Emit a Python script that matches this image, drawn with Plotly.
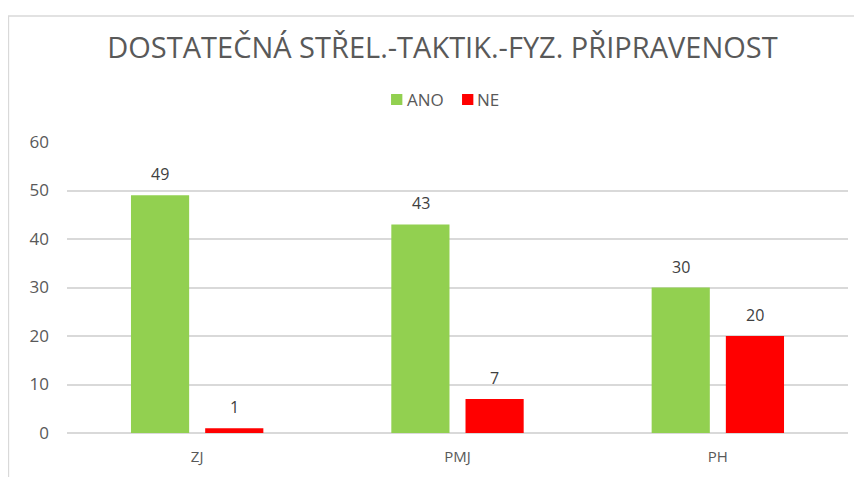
import plotly.graph_objects as go

# chart data
categories = ['ZJ', 'PMJ', 'PH']
ano_values = [49, 43, 30]
ne_values = [1, 7, 20]
y_ticks = [0, 10, 20, 30, 40, 50, 60]

GREEN = '#92D050'
RED = '#FF0000'
TEXT = '#595959'

fig = go.Figure()

fig.add_trace(go.Bar(x=categories, y=ano_values, name='ANO', showlegend=False,
                     marker=dict(color=GREEN, line=dict(width=0))))
fig.add_trace(go.Bar(x=categories, y=ne_values, name='NE', showlegend=False,
                     marker=dict(color=RED, line=dict(width=0))))

# value labels above each bar
for shift, values in [(-37, ano_values), (37, ne_values)]:
    for cat, val in zip(categories, values):
        fig.add_annotation(x=cat, y=val, text=str(val), showarrow=False,
                           xshift=shift, yshift=21,
                           font=dict(size=16, color='#404040'))

# compact legend drawn by hand: square swatch + label (paper coords)
legend_items = [('ANO', GREEN, 0.4149, 0.4353), ('NE', RED, 0.5058, 0.5250)]
for name, color, sx, tx in legend_items:
    fig.add_shape(type='rect', xref='paper', yref='paper',
                  x0=sx, x1=sx + 0.0145, y0=1.1271, y1=1.1649,
                  fillcolor=color, line=dict(width=0))
    fig.add_annotation(xref='paper', yref='paper', x=tx, y=1.146,
                       xanchor='left', yanchor='middle', text=name,
                       showarrow=False, xshift=-2,
                       font=dict(size=17, color=TEXT))

# outer chart border (like the Excel chart frame)
fig.add_shape(type='rect', xref='paper', yref='paper',
              x0=-0.075, x1=1.03, y0=-0.2, y1=1.433,
              line=dict(color='#d9d9d9', width=1.5), layer='below')

# page body has an 8px margin, so the margins are offset to compensate
fig.update_layout(
    width=862, height=477,
    margin=dict(l=59, r=22, t=134, b=52),
    paper_bgcolor='white', plot_bgcolor='white',
    font=dict(family='Open Sans', color=TEXT),
    title=dict(text='DOSTATEČNÁ STŘEL.-TAKTIK.-FYZ. PŘIPRAVENOST',
               x=0.504, xanchor='center', y=0.916, yanchor='middle',
               font=dict(size=29, color=TEXT)),
    showlegend=False,
    barmode='group', bargap=0.43, bargroupgap=0.216,
)

fig.update_xaxes(showgrid=False, showline=False, ticks='',
                 tickfont=dict(size=15, color=TEXT), ticklabelstandoff=13)
fig.update_yaxes(range=[0, 60], tickvals=y_ticks, showline=False,
                 gridcolor='#d9d9d9', gridwidth=1.5, zeroline=True,
                 zerolinecolor='#d9d9d9', zerolinewidth=1.5,
                 tickfont=dict(size=17, color=TEXT), ticks='',
                 ticklabelstandoff=17)

fig.write_html('out.html')
